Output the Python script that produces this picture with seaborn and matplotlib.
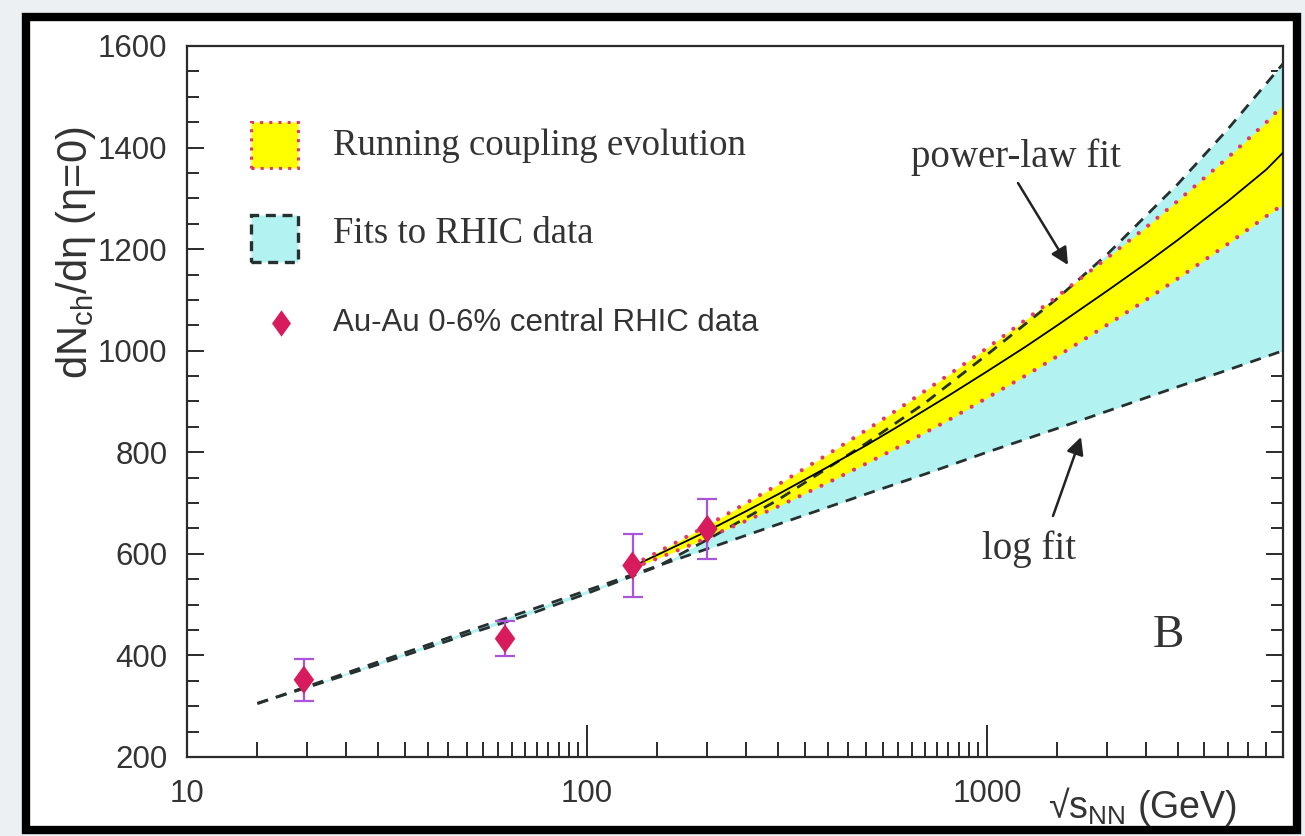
import numpy as np
import pandas as pd
import matplotlib
matplotlib.use("Agg")
import matplotlib.pyplot as plt
import seaborn as sns
from matplotlib.patches import Rectangle
from matplotlib.lines import Line2D
from matplotlib.ticker import FixedLocator, FixedFormatter, NullFormatter, MultipleLocator

# ---------------- data ----------------
energy_fit = [15, 20, 30, 50, 70, 100, 150, 200, 300, 500, 700, 1000, 1500, 2000, 3000, 4000, 5500]
power_law_fit = [306, 337, 382, 441, 478, 522, 575, 628, 706, 818, 897, 992, 1103, 1190, 1328, 1436, 1565]
log_fit = [305, 339, 387, 447, 486, 528, 576, 610, 658, 718, 757, 800, 847, 881, 929, 962, 1000]

energy_rc = [130, 150, 175, 200, 250, 300, 400, 500, 600, 800, 1000, 1250, 1500,
             2000, 2500, 3000, 4000, 5000, 5500]
rc_central = [575, 598, 623, 645, 684, 717, 771, 814, 851, 911, 959, 1008, 1050,
              1118, 1172, 1218, 1294, 1357, 1390]
rc_upper = [578, 603, 631, 656, 700, 736, 796, 844, 885, 952, 1005, 1061, 1107,
            1183, 1243, 1295, 1380, 1450, 1484]
rc_lower = [572, 591, 612, 632, 665, 693, 740, 778, 810, 863, 907, 951, 989,
            1051, 1100, 1142, 1210, 1265, 1288]

energy_data = [19.6, 62.4, 130, 200]
mult_data = [352, 433, 577, 649]
mult_err = [41, 34, 62, 60]

x_major = [10, 100, 1000]
x_major_labels = ["10", "100", "1000"]
x_minor = list(range(15, 100, 5)) + list(range(150, 1000, 50)) + list(range(1500, 5001, 500))

legend_labels = ["Running coupling evolution", "Fits to RHIC data", "Au-Au 0-6% central RHIC data"]

# ---------------- style ----------------
W, H = 1305, 836
sns.set_theme(style="ticks")
plt.rcParams["font.family"] = ["Liberation Sans", "DejaVu Sans"]
plt.rcParams["mathtext.default"] = "regular"

CYAN = "#b2f3f2"
YELLOW = "#ffff00"
REDDOT = "#e0386a"
DASH = "#26302f"
MARK = "#d81b5c"
ERR = "#a855d8"
TXT = "#333333"

def fx(x):
    return x / W

def fy(y):
    return 1 - y / H

fig = plt.figure(figsize=(W / 100, H / 100), dpi=100, facecolor="#edf0f3")
ax = fig.add_axes([fx(187), fy(757), (1283 - 187) / W, (757 - 46) / H])

# frame
fig.patches.append(Rectangle((fx(26), fy(830)), (1297 - 26) / W, (830 - 17) / H,
                             transform=fig.transFigure, facecolor="white",
                             edgecolor="black", lw=6, zorder=-5))

# bands
ax.fill_between(energy_fit, log_fit, power_law_fit, color=CYAN, lw=0, zorder=1)
ax.fill_between(energy_rc, rc_lower, rc_upper, color=YELLOW, lw=0, zorder=2)

# fit lines
sns.lineplot(x=energy_fit, y=log_fit, ax=ax, color=DASH, lw=2.0,
             linestyle=(0, (4, 3)), zorder=3)
sns.lineplot(x=energy_fit, y=power_law_fit, ax=ax, color=DASH, lw=2.0,
             linestyle=(0, (4, 3)), zorder=3)

# running coupling lines
sns.lineplot(x=energy_rc, y=rc_central, ax=ax, color="black", lw=1.3, zorder=4)
for yy in (rc_upper, rc_lower):
    ax.plot(energy_rc, yy, color=REDDOT, lw=3.0, linestyle=(0, (0.01, 2.9)),
            dash_capstyle="round", zorder=4)

# data points
ax.errorbar(energy_data, mult_data, yerr=mult_err, fmt="none", ecolor=ERR,
            elinewidth=1.6, capsize=7, capthick=1.6, zorder=5)
diamond = [(0, 1), (0.72, 0), (0, -1), (-0.72, 0), (0, 1)]
sns.scatterplot(x=energy_data, y=mult_data, ax=ax, marker=diamond, s=420,
                color=MARK, edgecolor="none", linewidth=0, zorder=6)

# axes
ax.set_xscale("log")
ax.set_xlim(10, 5500)
ax.set_ylim(200, 1600)
ax.xaxis.set_major_locator(FixedLocator(x_major))
ax.xaxis.set_major_formatter(FixedFormatter(x_major_labels))
ax.xaxis.set_minor_locator(FixedLocator(x_minor))
ax.xaxis.set_minor_formatter(NullFormatter())
ax.yaxis.set_major_locator(MultipleLocator(200))
ax.yaxis.set_minor_locator(MultipleLocator(50))
ax.set_xlabel("")
ax.set_ylabel("")
for s in ax.spines.values():
    s.set_color("#2b2b2b")
    s.set_linewidth(1.6)
    s.set_visible(True)
ax.tick_params(axis="x", which="major", direction="in", length=23, width=1.4,
               color="#2b2b2b", top=False, pad=16, labelsize=22.5, labelcolor=TXT)
ax.tick_params(axis="x", which="minor", direction="in", length=11, width=1.4,
               color="#2b2b2b", top=False)
ax.tick_params(axis="y", which="major", direction="in", length=12, width=1.4,
               color="#2b2b2b", left=True, right=True, pad=14, labelsize=22.5, labelcolor=TXT)
ax.tick_params(axis="y", which="minor", direction="in", length=8.5, width=1.4,
               color="#2b2b2b", left=True, right=True)

# axis titles
fig.text(fx(76), fy(253), "dN$_{ch}$/dη (η=0)", rotation=90, ha="center", va="center",
         fontsize=30, color=TXT)
fig.text(fx(1048), fy(806), "√s$_{NN}$ (GeV)", ha="left", va="center",
         fontsize=27, color=TXT)

# legend (drawn by hand as in the original)
fig.patches.append(Rectangle((fx(251), fy(168)), 47 / W, 46 / H, transform=fig.transFigure,
                             facecolor=YELLOW, edgecolor=REDDOT, lw=2.2,
                             linestyle=(0, (1, 2))))
fig.patches.append(Rectangle((fx(251), fy(262)), 47 / W, 47 / H, transform=fig.transFigure,
                             facecolor=CYAN, edgecolor=DASH, lw=2.4,
                             linestyle=(0, (3, 2))))
fig.add_artist(Line2D([fx(281)], [fy(323)], marker=diamond, ms=19, color=MARK,
                      mec="none", transform=fig.transFigure))
serif = ["Liberation Serif", "DejaVu Serif"]
fig.text(fx(333), fy(146), legend_labels[0], family=serif, fontsize=26.5,
         va="center", ha="left", color=TXT)
fig.text(fx(333), fy(234), legend_labels[1], family=serif, fontsize=26.5,
         va="center", ha="left", color=TXT)
fig.text(fx(333), fy(323), legend_labels[2], fontsize=22.5,
         va="center", ha="left", color=TXT)

# annotations
fig.text(fx(1016), fy(157), "power-law fit", family=serif, fontsize=28,
         ha="center", va="center", color=TXT)
fig.text(fx(1029), fy(549), "log fit", family=serif, fontsize=28,
         ha="center", va="center", color=TXT)
fig.text(fx(1168), fy(636), "B", family=serif, fontsize=34,
         ha="center", va="center", color=TXT)
arrow = dict(arrowstyle="-|>", color="#222222", lw=1.8, mutation_scale=26,
             shrinkA=0, shrinkB=0)
ax.annotate("", xy=(fx(1068), fy(265)), xytext=(fx(1018), fy(183)),
            xycoords="figure fraction", textcoords="figure fraction", arrowprops=arrow)
ax.annotate("", xy=(fx(1081), fy(437)), xytext=(fx(1053), fy(516)),
            xycoords="figure fraction", textcoords="figure fraction", arrowprops=arrow)

fig.savefig("out.png", dpi=100, facecolor=fig.get_facecolor())
